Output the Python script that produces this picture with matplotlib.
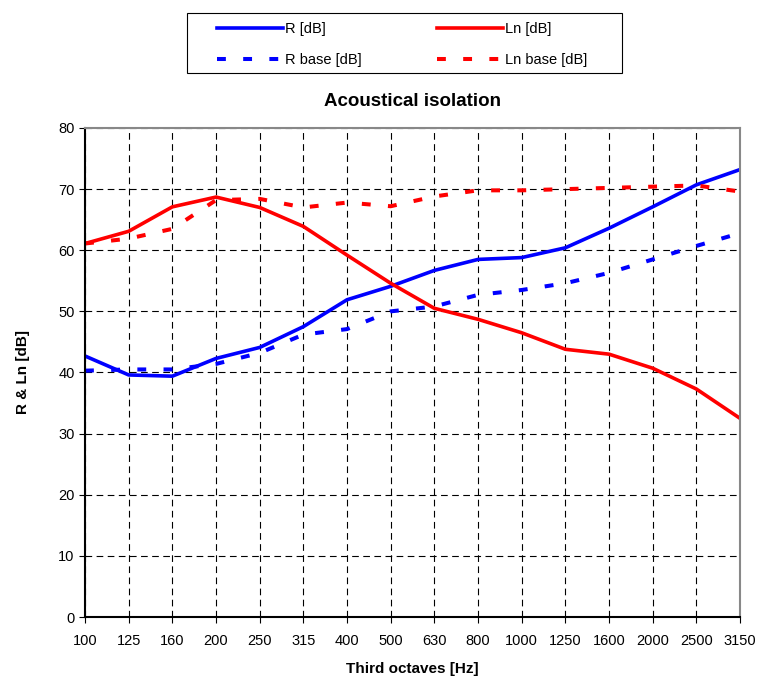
import matplotlib
matplotlib.use("Agg")
import matplotlib.pyplot as plt
from matplotlib.patches import Rectangle

plt.rcParams['font.family'] = ['Liberation Sans', 'DejaVu Sans']

# third-octave bands
bandas = ["100", "125", "160", "200", "250", "315", "400", "500", "630",
          "800", "1000", "1250", "1600", "2000", "2500", "3150"]

r_db = [42.7, 39.6, 39.4, 42.3, 44.1, 47.5, 51.9, 54.1, 56.7, 58.5,
        58.8, 60.4, 63.6, 67.1, 70.7, 73.2]
ln_db = [61.1, 63.1, 67.1, 68.7, 67.0, 63.9, 59.2, 54.6, 50.5, 48.7,
         46.5, 43.8, 43.0, 40.7, 37.3, 32.5]
r_base = [40.3, 40.5, 40.5, 41.4, 43.2, 46.2, 47.1, 50.0, 50.8, 52.7,
          53.5, 54.6, 56.3, 58.5, 60.7, 62.8]
ln_base = [61.1, 61.9, 63.5, 68.2, 68.4, 67.0, 67.8, 67.2, 68.8, 69.8,
           69.8, 70.0, 70.2, 70.4, 70.6, 69.6]

fig = plt.figure(figsize=(7.59, 6.79), dpi=100)
ax = fig.add_axes([0.112, 0.0913, 0.863, 0.7202])

x = list(range(len(bandas)))
l1, = ax.plot(x, r_db, color="#0000ff", lw=2.6, label="R [dB]")
l2, = ax.plot(x, ln_db, color="#ff0000", lw=2.6, label="Ln [dB]")
l3, = ax.plot(x, r_base, color="#0000ff", lw=2.9, dashes=(2.2, 4.3), label="R base [dB]")
l4, = ax.plot(x, ln_base, color="#ff0000", lw=2.9, dashes=(2.2, 4.3), label="Ln base [dB]")

ax.set_xlim(0, len(bandas) - 1)
ax.set_ylim(0, 80)
ax.set_xticks(x)
ax.set_xticklabels(bandas)
ax.set_yticks(range(0, 81, 10))
ax.grid(True, color="black", linestyle=(0, (6, 4)), linewidth=0.8)
ax.tick_params(labelsize=10.5, length=4, direction="out", colors="black")
ax.tick_params(axis="x", pad=8)

for lado in ["top", "right"]:
    ax.spines[lado].set_color("#888888")
    ax.spines[lado].set_linewidth(1.5)
for lado in ["left", "bottom"]:
    ax.spines[lado].set_color("black")
    ax.spines[lado].set_linewidth(1.5)

ax.set_title("Acoustical isolation", fontsize=13.5, fontweight="bold", pad=16)
ax.set_xlabel("Third octaves [Hz]", fontsize=11, fontweight="bold", labelpad=10)
ax.set_ylabel("R & Ln [dB]", fontsize=11, fontweight="bold", labelpad=20)

# legend box like the original (wider side padding)
caja = Rectangle((187 / 759, 1 - 73 / 679), 435 / 759, 60 / 679,
                 transform=fig.transFigure, facecolor="white",
                 edgecolor="black", linewidth=0.8)
fig.patches.append(caja)
leg = fig.legend(handles=[l1, l3, l2, l4], loc="upper left",
                 bbox_to_anchor=(217 / 759, 1 - 22 / 679), ncol=2,
                 fontsize=10.5, frameon=False,
                 handlelength=4.5, handletextpad=0.15, columnspacing=5.2,
                 borderpad=0, borderaxespad=0, labelspacing=1.15)

fig.savefig("out.png", dpi=100)
